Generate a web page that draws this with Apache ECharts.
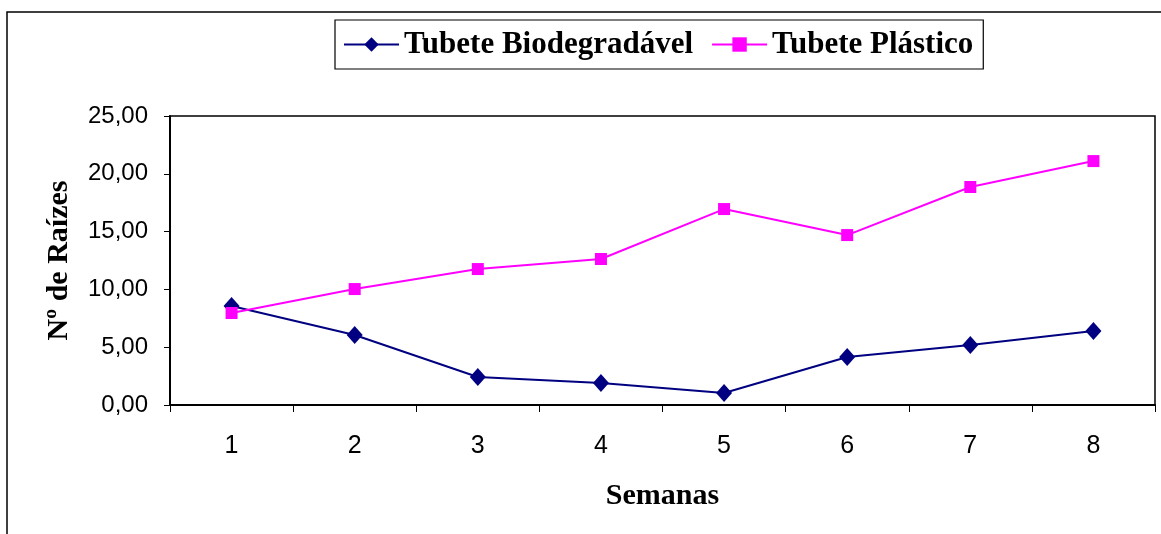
<!DOCTYPE html>
<html>
<head>
<meta charset="utf-8">
<script src="https://cdn.jsdelivr.net/npm/echarts@6/dist/echarts.min.js"></script>
<style>html,body{margin:0;padding:0;background:#fff}#c{width:1161px;height:534px}</style>
</head>
<body>
<div id="c"></div>
<script>
const categories = ['1','2','3','4','5','6','7','8'];
const biodegradavel = [8.56, 6.06, 2.42, 1.90, 1.04, 4.15, 5.19, 6.40];
const plastico = [7.96, 10.03, 11.76, 12.63, 16.95, 14.70, 18.86, 21.10];
const seriesNames = ['Tubete Biodegradável', 'Tubete Plástico'];
const xTitle = 'Semanas';
const yTitle = 'Nº de Raízes';

const chart = echarts.init(document.getElementById('c'));
chart.setOption({
  animation: false,
  backgroundColor: '#fff',
  graphic: [{
    type: 'rect',
    shape: { x: 7, y: 12, width: 1170, height: 540 },
    style: { fill: 'none', stroke: '#000', lineWidth: 1.5 },
    silent: true
  }],
  legend: {
    left: 335, top: 20,
    padding: [9, 10, 9, 8],
    borderColor: '#000', borderWidth: 1.2,
    itemWidth: 55, itemHeight: 18, itemGap: 18,
    textStyle: { fontFamily: 'Liberation Serif', fontWeight: 'bold', fontSize: 31, color: '#000' },
    data: seriesNames
  },
  grid: {
    left: 170, top: 116, right: 6, bottom: 129,
    show: true, borderColor: '#000', borderWidth: 1.5
  },
  xAxis: {
    type: 'category', data: categories, boundaryGap: true,
    name: xTitle, nameLocation: 'middle', nameGap: 76,
    nameTextStyle: { fontFamily: 'Liberation Serif', fontWeight: 'bold', fontSize: 30, color: '#000' },
    axisLine: { lineStyle: { color: '#000', width: 2 } },
    axisTick: { show: true, interval: 0, length: 7, lineStyle: { color: '#000' } },
    axisLabel: { interval: 0, margin: 29, fontFamily: 'Liberation Sans', fontSize: 25, color: '#000' },
    splitLine: { show: false }
  },
  yAxis: {
    type: 'value', min: 0, max: 25, interval: 5,
    name: yTitle, nameLocation: 'middle', nameGap: 96, nameRotate: 90,
    nameTextStyle: { fontFamily: 'Liberation Serif', fontWeight: 'bold', fontSize: 30, color: '#000' },
    axisLine: { show: true, lineStyle: { color: '#000', width: 2 } },
    axisTick: { show: true, length: 6, lineStyle: { color: '#000' } },
    axisLabel: { margin: 22, fontFamily: 'Liberation Sans', fontSize: 24, color: '#000',
      formatter: v => v.toFixed(2).replace('.', ',') },
    splitLine: { show: false }
  },
  series: [
    { name: seriesNames[0], type: 'line', data: biodegradavel,
      symbol: 'diamond', symbolSize: [16, 18],
      itemStyle: { color: '#000080' }, lineStyle: { color: '#000080', width: 2 } },
    { name: seriesNames[1], type: 'line', data: plastico,
      symbol: 'rect', symbolSize: 12,
      itemStyle: { color: '#ff00ff' }, lineStyle: { color: '#ff00ff', width: 2 } }
  ]
});
</script>
</body>
</html>
